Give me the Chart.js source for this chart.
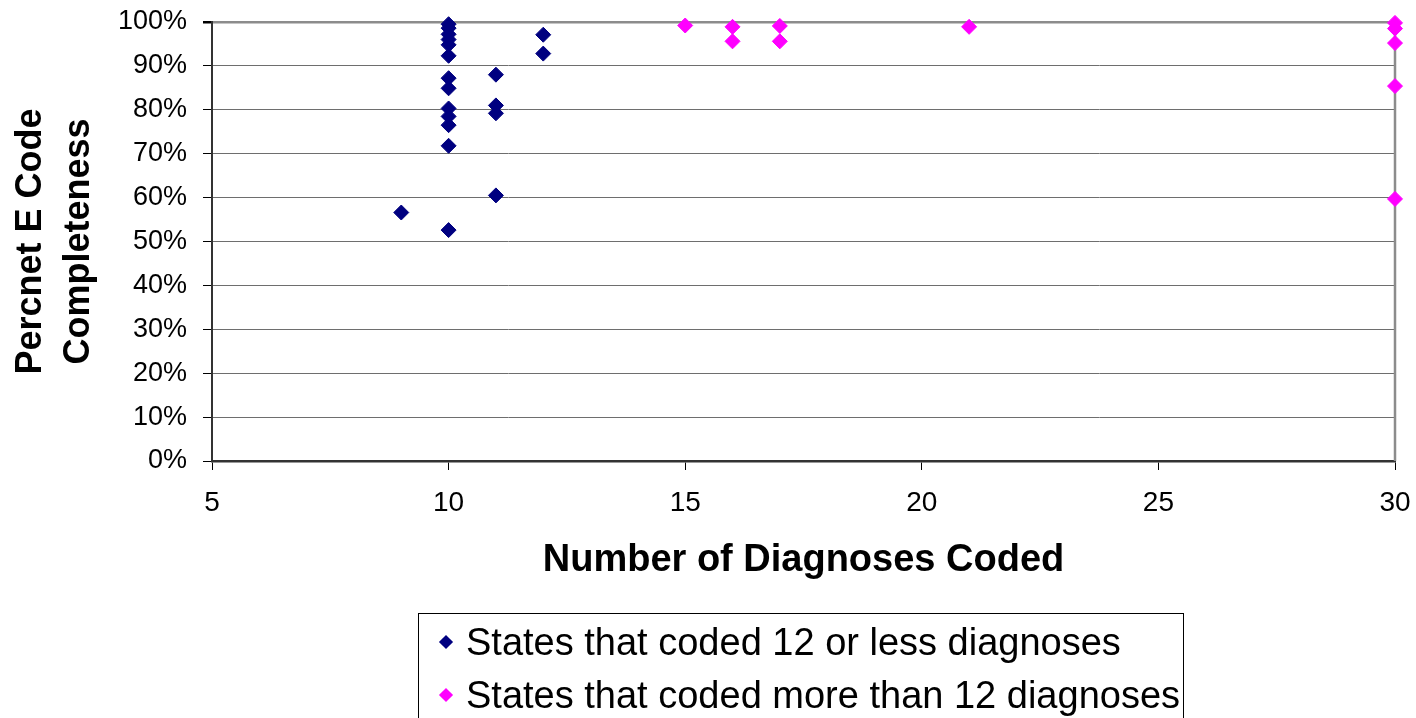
<!DOCTYPE html>
<html>
<head>
<meta charset="utf-8">
<script src="https://cdn.jsdelivr.net/npm/chart.js@4"></script>
<style>
  body { margin: 0; background: #fff; overflow: hidden; }
  #wrap { position: relative; width: 1416px; height: 718px; }
  #legend {
    position: absolute; left: 418px; top: 613px; width: 766px; height: 130px;
    border: 1px solid #000; box-sizing: border-box;
    font-family: 'Liberation Sans', Arial, sans-serif; font-size: 38px; color: #000;
  }
  #legend .item { position: absolute; left: 0; height: 42px; line-height: 42px; white-space: nowrap; }
  #legend .mark { position: absolute; left: 22px; top: 16px; width: 10px; height: 10px; transform: rotate(45deg); }
  #legend .label { position: absolute; left: 47px; top: 0; }
</style>
</head>
<body>
<div id="wrap">
  <canvas id="chart" width="1416" height="718"></canvas>
  <div id="legend"></div>
</div>
<script>
// States that coded 12 or less diagnoses
const lowX = [9, 10, 10, 10, 10, 10, 10, 10, 10, 10, 10, 10, 10, 10, 11, 11, 11, 11, 12, 12];
const lowY = [56.6, 99.5, 98.6, 97.2, 96.0, 94.8, 92.3, 87.2, 84.9, 80.3, 78.5, 76.5, 71.8, 52.6, 88.0, 81.0, 79.2, 60.5, 97.1, 92.8];

// States that coded more than 12 diagnoses
const highX = [15, 16, 16, 17, 17, 21, 30, 30, 30, 30, 30];
const highY = [99.2, 98.9, 95.6, 99.1, 95.6, 98.9, 99.8, 98.5, 95.2, 85.4, 59.7];

const seriesLabels = ['States that coded 12 or less diagnoses', 'States that coded more than 12 diagnoses'];
const seriesColors = ['#000080', '#ff00ff'];

const xTicks = [5, 10, 15, 20, 25, 30];
const yTicks = [0, 10, 20, 30, 40, 50, 60, 70, 80, 90, 100];

function toPoints(xs, ys) {
    return xs.map((x, i) => ({ x: x, y: ys[i] }));
}

const font = "'Liberation Sans', Arial, sans-serif";
Chart.defaults.font.family = font;
Chart.defaults.color = '#000';

// right edge of the plot area, drawn under the points
const plotBorder = {
    id: 'plotBorder',
    beforeDatasetsDraw(chart) {
        const { ctx, chartArea } = chart;
        ctx.save();
        ctx.strokeStyle = '#8c8c8c';
        ctx.lineWidth = 2.5;
        ctx.beginPath();
        ctx.moveTo(chartArea.right, chartArea.top);
        ctx.lineTo(chartArea.right, chartArea.bottom);
        ctx.stroke();
        ctx.restore();
    }
};

const chart = new Chart(document.getElementById('chart').getContext('2d'), {
    type: 'scatter',
    data: {
        datasets: [
            {
                label: seriesLabels[0],
                data: toPoints(lowX, lowY),
                backgroundColor: seriesColors[0],
                borderColor: seriesColors[0],
                borderWidth: 1,
                pointStyle: 'rectRot',
                pointRadius: 7.5,
                clip: false
            },
            {
                label: seriesLabels[1],
                data: toPoints(highX, highY),
                backgroundColor: seriesColors[1],
                borderColor: seriesColors[1],
                borderWidth: 1,
                pointStyle: 'rectRot',
                pointRadius: 7.5,
                clip: false
            }
        ]
    },
    options: {
        responsive: false,
        animation: false,
        layout: { padding: { left: 0, right: 21, top: 22, bottom: 135 } },
        plugins: {
            legend: { display: false },
            tooltip: { enabled: false }
        },
        scales: {
            x: {
                type: 'linear',
                min: 5,
                max: 30,
                afterFit: scale => {
                    scale.height = 122;
                    scale.paddingLeft = 0;
                    scale.paddingRight = 0;
                },
                afterBuildTicks: scale => { scale.ticks = xTicks.map(v => ({ value: v })); },
                ticks: { font: { size: 28 }, padding: 16, color: '#000' },
                grid: { drawOnChartArea: false, drawTicks: true, tickLength: 9, tickColor: '#000' },
                border: { color: '#333', width: 2.5 },
                title: {
                    display: true,
                    text: 'Number of Diagnoses Coded',
                    font: { size: 38, weight: 'bold', lineHeight: 1.2 },
                    color: '#000',
                    padding: { top: 0, bottom: 0 }
                }
            },
            y: {
                min: 0,
                max: 100,
                afterFit: scale => {
                    scale.width = 212;
                    scale.paddingTop = 0;
                    scale.paddingBottom = 0;
                },
                afterBuildTicks: scale => { scale.ticks = yTicks.map(v => ({ value: v })); },
                ticks: { font: { size: 27 }, padding: 16, color: '#000', callback: v => v + '%' },
                grid: {
                    color: c => c.tick && c.tick.value === 100 ? '#8c8c8c' : '#6e6e6e',
                    lineWidth: c => c.tick && c.tick.value === 100 ? 2.5 : 1,
                    tickLength: 9,
                    tickColor: '#000'
                },
                border: { color: '#333', width: 2 },
                title: {
                    display: true,
                    text: ['Percnet E Code', 'Completeness'],
                    font: { size: 36, weight: 'bold', lineHeight: 1.333 },
                    color: '#000',
                    padding: { top: 7, bottom: 0 }
                }
            }
        }
    },
    plugins: [plotBorder]
});

// legend box, stacked items as in the original
const legend = document.getElementById('legend');
chart.data.datasets.forEach((ds, i) => {
    const item = document.createElement('div');
    item.className = 'item';
    item.style.top = (7 + i * 53) + 'px';
    const mark = document.createElement('span');
    mark.className = 'mark';
    mark.style.background = ds.backgroundColor;
    const label = document.createElement('span');
    label.className = 'label';
    label.textContent = ds.label;
    item.appendChild(mark);
    item.appendChild(label);
    legend.appendChild(item);
});
</script>
</body>
</html>
